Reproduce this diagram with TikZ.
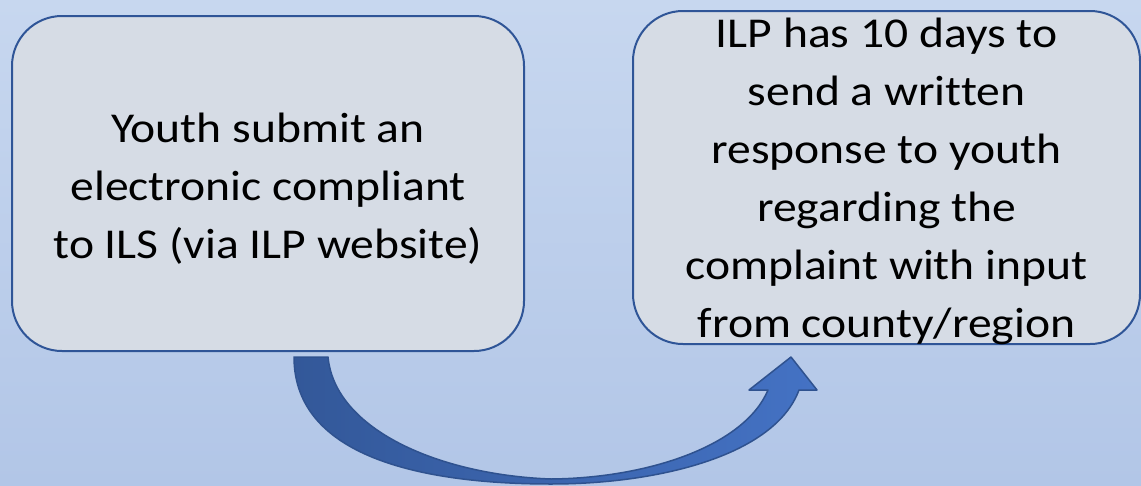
\documentclass[tikz,border=0pt]{standalone}
\usepackage{fontspec}
\setmainfont{Carlito}[Ligatures=NoCommon,FakeStretch=1.12]
\usepackage{xcolor}
\usetikzlibrary{positioning,calc}
\definecolor{bgtop}{RGB}{199,215,239}
\definecolor{bgmid}{RGB}{173,194,228}
\definecolor{bgbot}{RGB}{178,198,231}
\definecolor{boxfill}{RGB}{214,220,229}
\definecolor{boxline}{RGB}{47,85,151}
\definecolor{arrowdark}{RGB}{51,88,153}
\definecolor{arrowlight}{RGB}{68,114,196}
\definecolor{arrowline}{RGB}{47,82,143}

\begin{document}
\begin{tikzpicture}[x=1pt,y=-1pt]
\def\boxwd{512}
\def\boxht{335}
\tikzset{stage box/.style={
	draw=boxline,
	line width=2pt,
	fill=boxfill,
	rounded corners=50pt,
	minimum width=\boxwd pt,
	minimum height=\boxht pt,
	inner sep=0pt,
	align=center,
	text depth=0pt,
	font=\fontsize{42.5}{58}\selectfont
}}
\tikzset{bent arrow/.style={
	draw=arrowline,
	line width=1.5pt,
	line join=round,
	left color=arrowdark,
	right color=arrowlight
}}
\useasboundingbox (0,0) rectangle (1141,485);
\fill[top color=bgtop, middle color=bgmid, bottom color=bgbot] (0,0) rectangle (1141,485);
\node[stage box, text height=149pt] (submit) at (268,183.5)
	{Youth submit an\\electronic compliant\\to ILS (via ILP website)};
\node[stage box, minimum width=507pt, minimum height=333pt, text height=320pt,
	right=107pt of submit, yshift=6pt] (respond)
	{ILP has 10 days to\\send a written\\response to youth\\regarding the\\complaint with input\\from county/region};
\coordinate (tail) at ($(submit.south)+(26,5)$);
\coordinate (tip) at ($(respond.south)+(-95.5,12)$);
\draw[bent arrow] (tail)
	.. controls ($(tail)+(0,103)$) and ($(tail)+(136,127)$) .. ($(tail)+(257,127)$)
	.. controls ($(tip)+(-131,127)$) and ($(tip)+(-16,98)$) .. ($(tip)+(8,33)$)
	-- ($(tip)+(26,33)$) -- (tip) -- ($(tip)+(-42,33)$) -- ($(tip)+(-23,33)$)
	.. controls ($(tip)+(-46,88)$) and ($(tip)+(-141,121)$) .. ($(tail)+(257,122)$)
	.. controls ($(tail)+(146,118)$) and ($(tail)+(41,73)$) .. ($(tail)+(34,0)$)
	-- cycle;
\end{tikzpicture}
\end{document}
